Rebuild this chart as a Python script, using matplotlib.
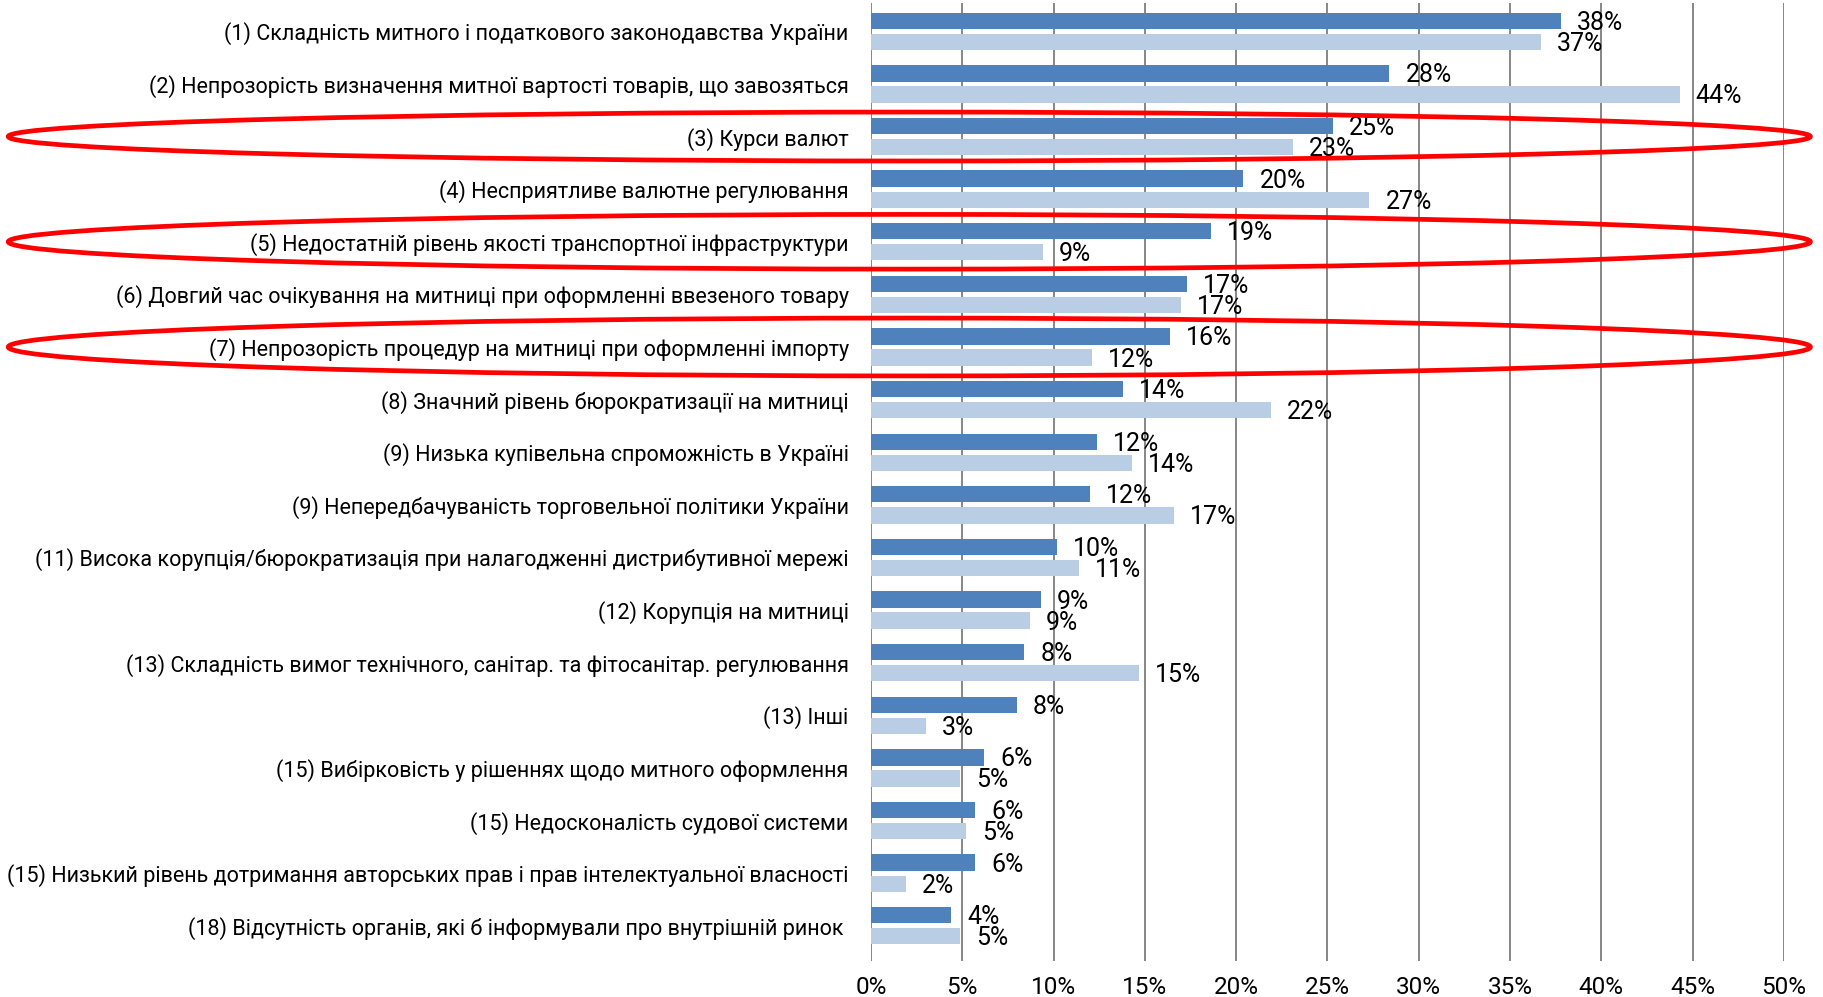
import matplotlib
matplotlib.use("Agg")
import matplotlib.pyplot as plt
from matplotlib.patches import Ellipse
import numpy as np

plt.rcParams['font.family'] = ['Roboto', 'DejaVu Sans']

categories = [
    "(1) Складність митного і податкового законодавства України",
    "(2) Непрозорість визначення митної вартості товарів, що завозяться",
    "(3) Курси валют",
    "(4) Несприятливе валютне регулювання",
    "(5) Недостатній рівень якості транспортної інфраструктури",
    "(6) Довгий час очікування на митниці при оформленні ввезеного товару",
    "(7) Непрозорість процедур на митниці при оформленні імпорту",
    "(8) Значний рівень бюрократизації на митниці",
    "(9) Низька купівельна спроможність в Україні",
    "(9) Непередбачуваність торговельної політики України",
    "(11) Висока корупція/бюрократизація при налагодженні дистрибутивної мережі",
    "(12) Корупція на митниці",
    "(13) Складність вимог технічного, санітар. та фітосанітар. регулювання",
    "(13) Інші",
    "(15) Вибірковість у рішеннях щодо митного оформлення",
    "(15) Недосконалість судової системи",
    "(15) Низький рівень дотримання авторських прав і прав інтелектуальної власності",
    "(18) Відсутність органів, які б інформували про внутрішній ринок ",
]
series_dark = [37.8, 28.4, 25.3, 20.4, 18.6, 17.3, 16.4, 13.8, 12.4, 12.0,
               10.2, 9.3, 8.4, 8.0, 6.2, 5.7, 5.7, 4.4]
series_light = [36.7, 44.3, 23.1, 27.3, 9.4, 17.0, 12.1, 21.9, 14.3, 16.6,
                11.4, 8.7, 14.7, 3.0, 4.9, 5.2, 1.9, 4.9]
x_ticks = [0, 5, 10, 15, 20, 25, 30, 35, 40, 45, 50]
highlight_rows = [2, 4, 6]
highlight_heights = [0.93, 1.04, 1.1]

dark_color = '#4F81BD'
light_color = '#B9CDE5'

fig = plt.figure(figsize=(18.24, 9.97), dpi=100)
ax = fig.add_axes([0.4775, 0.0361, 0.5005, 0.961])

y = np.arange(len(categories))
h = 0.31
ax.barh(y - 0.2, series_dark, height=h, color=dark_color, zorder=3)
ax.barh(y + 0.2, series_light, height=h, color=light_color, zorder=3)

for yi, v in zip(y, series_dark):
    ax.annotate(f"{round(v):.0f}%", (v, yi - 0.2), xytext=(16, -2),
                textcoords='offset pixels', va='center', ha='left', fontsize=18)
for yi, v in zip(y, series_light):
    ax.annotate(f"{round(v):.0f}%", (v, yi + 0.2), xytext=(16, -2),
                textcoords='offset pixels', va='center', ha='left', fontsize=18)

ax.set_xlim(0, 50)
ax.set_ylim(17.67, -0.54)
ax.set_xticks(x_ticks)
ax.set_xticklabels([f"{t}%" for t in x_ticks], fontsize=17.5)
ax.set_yticks(y)
ax.set_yticklabels(categories, fontsize=15.5)
ax.tick_params(axis='both', length=0)
ax.tick_params(axis='x', pad=11)
ax.tick_params(axis='y', pad=16)

ax.grid(axis='x', color='#868686', linewidth=1.4, zorder=0)
ax.set_axisbelow(True)
for pos in ['right', 'top', 'bottom', 'left']:
    ax.spines[pos].set_visible(False)

# red highlight ellipses around selected rows
for row, eh in zip(highlight_rows, highlight_heights):
    ax.add_patch(Ellipse((2.1, row), 98.7, eh, fill=False, edgecolor='#FF0000',
                         linewidth=3.4, clip_on=False, zorder=5))

fig.savefig('out.png', dpi=100)
